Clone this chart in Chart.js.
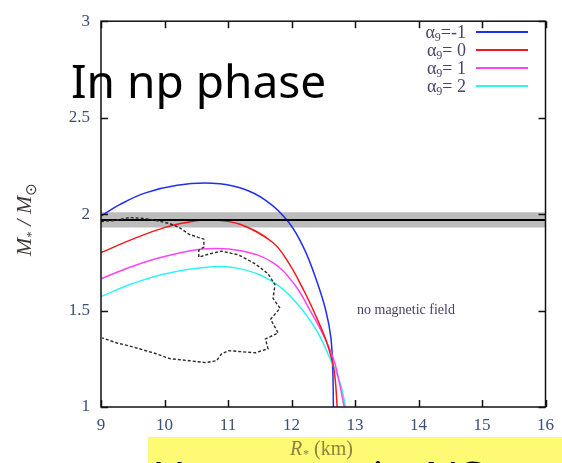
<!DOCTYPE html>
<html>
<head>
<meta charset="utf-8">
<script src="https://cdn.jsdelivr.net/npm/chart.js@4.4.1/dist/chart.umd.min.js"></script>
<style>
  html, body { margin: 0; padding: 0; background: #fff; }
  #wrap { position: relative; width: 562px; height: 463px; }
</style>
</head>
<body>
<div id="wrap"><canvas id="mr"></canvas></div>
<script>
// mass-radius curves, R in km, M in solar masses
const xTicks = [9, 10, 11, 12, 13, 14, 15, 16];
const yTicks = [1, 1.5, 2, 2.5, 3];

const seriesLabels = ['-1', ' 0', ' 1', ' 2'];
const seriesColors = ['#1f2ff0', '#f01a1a', '#ff44f6', '#33f4f4'];

const rBlue = [9.0, 9.3, 9.7, 10.2, 10.75, 11.2, 11.6, 11.95, 12.2, 12.4, 12.54, 12.62, 12.65, 12.66];
const mBlue = [1.99, 2.05, 2.11, 2.15, 2.16, 2.135, 2.07, 1.96, 1.82, 1.65, 1.50, 1.36, 1.19, 1.0];

const rRed = [9.0, 9.5, 10.0, 10.5, 10.8, 11.2, 11.7, 11.95, 12.2, 12.4, 12.56, 12.67, 12.72];
const mRed = [1.80, 1.87, 1.93, 1.965, 1.97, 1.946, 1.854, 1.75, 1.60, 1.46, 1.33, 1.19, 1.0];

const rMag = [9.0, 9.5, 10.0, 10.65, 11.2, 11.7, 12.05, 12.3, 12.52, 12.67, 12.77, 12.83];
const mMag = [1.665, 1.73, 1.78, 1.82, 1.81, 1.75, 1.634, 1.496, 1.36, 1.24, 1.10, 1.0];

const rCyan = [9.0, 9.5, 10.0, 10.7, 11.2, 11.7, 12.1, 12.4, 12.6, 12.77, 12.85];
const mCyan = [1.573, 1.64, 1.69, 1.726, 1.716, 1.65, 1.532, 1.394, 1.256, 1.12, 1.0];

// observational contour (dashed)
const rCont = [9.0, 9.22, 9.45, 9.69, 9.87, 10.08, 10.23, 10.39, 10.62, 10.62, 10.54, 10.54, 10.70, 10.90, 11.17,
  11.43, 11.63, 11.74, 11.71, 11.82, 11.67, 11.79, 11.59, 11.63, 11.43, 11.01, 10.90, 10.82, 10.65, 10.39,
  10.08, 9.87, 9.50, 9.25, 9.02];
const mCont = [1.962, 1.967, 1.982, 1.977, 1.967, 1.951, 1.931, 1.895, 1.870, 1.829, 1.813, 1.777, 1.793, 1.808, 1.788,
  1.742, 1.691, 1.634, 1.563, 1.512, 1.455, 1.384, 1.353, 1.302, 1.281, 1.292, 1.276, 1.240, 1.230, 1.240,
  1.251, 1.276, 1.312, 1.332, 1.358];

// 1.97 +- 0.04 band
const bandR = [9, 16];
const bandLow = [1.93, 1.93];
const bandHigh = [2.01, 2.01];
const bandMid = [1.97, 1.97];

const pts = (xs, ys) => xs.map((x, i) => ({ x: x, y: ys[i] }));

const serif = '"Liberation Serif", "DejaVu Serif", serif';
const tickColor = '#3d4c78';

const frame = {
    id: 'frame',
    beforeDraw(chart) {
        const ctx = chart.ctx;
        ctx.save();
        ctx.fillStyle = '#ffffff';
        ctx.fillRect(0, 0, chart.width, chart.height);
        ctx.fillStyle = '#fffa74';
        ctx.fillRect(148, 437, chart.width - 148, chart.height - 437);
        ctx.restore();
    },
    afterDraw(chart) {
        const ctx = chart.ctx;
        const a = chart.chartArea;
        const xs = chart.scales.x, ys = chart.scales.y;
        ctx.save();
        ctx.strokeStyle = '#111';
        ctx.lineWidth = 1.5;
        ctx.strokeRect(a.left, a.top, a.right - a.left, a.bottom - a.top);
        // inward ticks on all sides
        ctx.beginPath();
        xTicks.forEach(v => {
            const px = Math.round(xs.getPixelForValue(v)) + 0.5;
            ctx.moveTo(px, a.bottom); ctx.lineTo(px, a.bottom - 7);
            ctx.moveTo(px, a.top); ctx.lineTo(px, a.top + 7);
        });
        yTicks.forEach(v => {
            const py = Math.round(ys.getPixelForValue(v)) + 0.5;
            ctx.moveTo(a.left, py); ctx.lineTo(a.left + 7, py);
            ctx.moveTo(a.right, py); ctx.lineTo(a.right - 7, py);
        });
        ctx.stroke();

        // legend
        ctx.textBaseline = 'alphabetic';
        seriesLabels.forEach((lab, i) => {
            const y = 32 + i * 18;
            ctx.strokeStyle = seriesColors[i];
            ctx.lineWidth = 2;
            ctx.beginPath();
            ctx.moveTo(476, y); ctx.lineTo(528, y);
            ctx.stroke();
            ctx.fillStyle = '#4a4560';
            ctx.font = '18px ' + serif;
            ctx.textAlign = 'right';
            const rest = '=' + lab;
            ctx.fillText(rest, 466, y + 6);
            const w = ctx.measureText(rest).width;
            ctx.font = '12px ' + serif;
            ctx.fillText('9', 466 - w, y + 9);
            ctx.font = '18px ' + serif;
            ctx.fillText('\u03b1', 466 - w - 6, y + 6);
        });

        ctx.fillStyle = '#4a3f5c';
        ctx.font = '14px ' + serif;
        ctx.textAlign = 'left';
        ctx.fillText('no magnetic field', 357, 314);

        // x title
        ctx.fillStyle = '#8e8240';
        ctx.font = 'italic 20px ' + serif;
        ctx.textAlign = 'left';
        ctx.fillText('R', 290, 455);
        ctx.font = '12px ' + serif;
        ctx.fillText('*', 303, 458);
        ctx.font = '20px ' + serif;
        ctx.fillText(' (km)', 309, 455);

        // y title, rotated
        ctx.translate(31, 212);
        ctx.rotate(-Math.PI / 2);
        ctx.fillStyle = '#3e3838';
        ctx.textAlign = 'left';
        ctx.font = 'italic 22px ' + serif;
        let x0 = -44;
        ctx.fillText('M', x0, 0); x0 += ctx.measureText('M').width;
        ctx.font = '13px ' + serif;
        ctx.fillText('*', x0, 4); x0 += ctx.measureText('*').width;
        ctx.font = 'italic 22px ' + serif;
        ctx.fillText(' / M', x0, 0); x0 += ctx.measureText(' / M').width;
        ctx.font = '15px "DejaVu Sans", sans-serif';
        ctx.fillText('\u2299', x0, 5);
        ctx.setTransform(1, 0, 0, 1, 0, 0);

        // slide overlays
        ctx.fillStyle = '#000';
        ctx.font = '46px "Noto Sans", sans-serif';
        ctx.textAlign = 'left';
        ctx.fillText('In np phase', 71, 98);
        ctx.fillText('Hyperons in NS', 152, 495);
        ctx.restore();
    }
};

const curve = (data, color) => ({
    data: data, borderColor: color, borderWidth: 1.5, showLine: true,
    pointRadius: 0, tension: 0.4, fill: false, order: 2
});

new Chart(document.getElementById('mr'), {
    type: 'scatter',
    data: {
        datasets: [
            { data: pts(bandR, bandHigh), borderWidth: 0, borderColor: 'rgba(0,0,0,0)', pointRadius: 0,
              showLine: true, fill: false, order: 5 },
            { data: pts(bandR, bandLow), borderWidth: 0, borderColor: 'rgba(0,0,0,0)', pointRadius: 0,
              showLine: true, fill: '-1', backgroundColor: '#bcbcbc', order: 5 },
            curve(pts(rRed, mRed), seriesColors[1]),
            curve(pts(rMag, mMag), seriesColors[2]),
            curve(pts(rCyan, mCyan), seriesColors[3]),
            { data: pts(bandR, bandMid), borderColor: '#000', borderWidth: 2, pointRadius: 0,
              showLine: true, fill: false, order: 1 },
            curve(pts(rBlue, mBlue), seriesColors[0]),
            { data: pts(rCont, mCont), borderColor: '#2a2a2a', borderWidth: 1.4, borderDash: [3, 2],
              pointRadius: 0, showLine: true, tension: 0, fill: false, order: 0 }
        ]
    },
    options: {
        responsive: true,
        maintainAspectRatio: false,
        animation: false,
        layout: { padding: { left: 0, right: 12, top: 16, bottom: 0 } },
        plugins: { legend: { display: false }, tooltip: { enabled: false } },
        scales: {
            x: {
                type: 'linear', min: 9, max: 16,
                afterBuildTicks: s => { s.ticks = xTicks.map(v => ({ value: v })); },
                afterFit: s => { s.height = 56; },
                grid: { display: false, drawTicks: false },
                border: { display: false },
                ticks: { color: tickColor, padding: 8, font: { family: serif, size: 17 },
                         callback: v => String(v) }
            },
            y: {
                type: 'linear', min: 1, max: 3,
                afterBuildTicks: s => { s.ticks = yTicks.map(v => ({ value: v })); },
                afterFit: s => { s.width = 101; },
                grid: { display: false, drawTicks: false },
                border: { display: false },
                ticks: { color: tickColor, padding: 11, font: { family: serif, size: 17 },
                         callback: v => String(v) }
            }
        }
    },
    plugins: [frame]
});
</script>
</body>
</html>
